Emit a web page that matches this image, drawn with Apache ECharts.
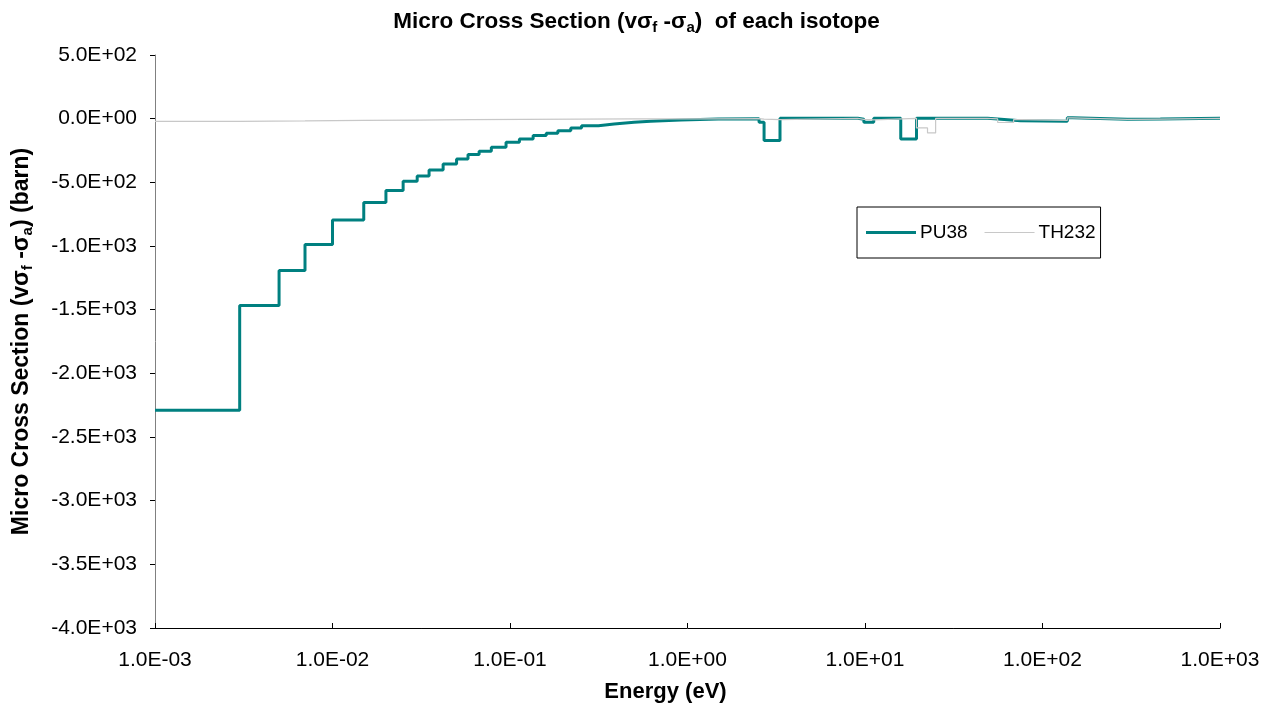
<!DOCTYPE html>
<html>
<head>
<meta charset="utf-8">
<script src="https://cdn.jsdelivr.net/npm/echarts@6/dist/echarts.min.js"></script>
<style>
  html, body { margin: 0; padding: 0; background: #fff; }
  #chart { width: 1273px; height: 708px; }
</style>
</head>
<body>
<div id="chart"></div>
<script>
// Energy group boundaries (eV), ascending; each group holds one value up to the next boundary.
const pu38Bounds = [1e-3, 3e-3, 5e-3, 7e-3, 1e-2, 1.5e-2, 2e-2, 2.5e-2, 3e-2, 3.5e-2, 4.2e-2,
  5e-2, 5.8e-2, 6.7e-2, 7.85e-2, 9.5e-2, 0.113, 0.135, 0.16, 0.186, 0.22, 0.253, 0.315, 0.386,
  0.5, 0.62, 0.92, 1.49, 2.53, 2.70, 3.32, 9.1, 9.85, 11.2, 15.9, 19.5, 49, 55.9, 75.2, 138,
  147.6, 301, 461, 1000];
// nu*sigma_f - sigma_a for PU38 (barn), one per group
const pu38Values = [-2290, -1467, -1192, -988, -795, -659, -565, -491, -450, -403, -356,
  -316, -282, -256, -225, -186, -159, -133, -115, -94, -73, -55, -42, -29,
  -21, -10, -3, 0, -29, -172, 3, -5, -29, 3, -159, 3, -2, -16, -21, 8,
  -5, -3, 3];

const th232Bounds = [1e-3, 3e-3, 7e-3, 1.5e-2, 3e-2, 6e-2, 0.12, 0.25, 0.5, 1.49, 2.53, 2.70,
  3.32, 9.1, 9.85, 11.2, 19.5, 22.5, 25.0, 49, 55.9, 68.7, 75.2, 138, 147.6, 301, 461, 1000];
// nu*sigma_f - sigma_a for TH232 (barn), one per group
const th232Values = [-22, -18, -14, -11, -8, -6, -4, -2, -1, 0, -3, -8,
  3, -5, -10, 3, -73, -112, 3, -2, -30, -8, -14, 6, -6, -3, 2];

const seriesNames = ['PU38', 'TH232'];
const yTicks = { min: -4000, max: 500, step: 500 };
const xRange = { min: 1e-3, max: 1e3 };

// Build step points: value held from each lower bound, closed at the last upper bound.
function stepData(bounds, values) {
  const pts = values.map((v, i) => [bounds[i], v]);
  pts.push([bounds[bounds.length - 1], values[values.length - 1]]);
  return pts;
}

// 5.0E+02 style number formatting
function sci(v) {
  const s = Number(v).toExponential(1);
  const m = s.match(/^(-?[\d.]+)e([+-])(\d+)$/);
  const exp = m[3].length < 2 ? '0' + m[3] : m[3];
  return m[1] + 'E' + m[2] + exp;
}

const font = 'Liberation Sans, Arial, sans-serif';
const sub = size => ({ fontSize: size, fontWeight: 'bold', fontFamily: font, verticalAlign: 'bottom', lineHeight: size });

const chart = echarts.init(document.getElementById('chart'), null, { renderer: 'canvas' });

chart.setOption({
  backgroundColor: '#ffffff',
  animation: false,
  title: {
    text: 'Micro Cross Section (vσ{f|f} -σ{a|a})  of each isotope',
    left: 'center',
    top: 8,
    padding: 0,
    textStyle: {
      fontFamily: font, fontSize: 22.5, fontWeight: 'bold', color: '#000', lineHeight: 27,
      rich: { f: sub(15), a: sub(15) }
    }
  },
  grid: { left: 153, right: 53, top: 55, bottom: 80, containLabel: false },
  legend: {
    left: 857,
    top: 207,
    orient: 'horizontal',
    backgroundColor: '#fff',
    borderColor: '#000',
    borderWidth: 1,
    borderRadius: 0,
    padding: [16, 5, 16, 9],
    itemWidth: 50,
    itemHeight: 14,
    itemGap: 17,
    symbolKeepAspect: true,
    textStyle: { fontFamily: font, fontSize: 19, color: '#000', padding: [0, 0, 0, -1] },
    data: [
      { name: seriesNames[0], icon: 'path://M0,0H50V3H0Z', itemStyle: { color: '#008080' } },
      { name: seriesNames[1], icon: 'path://M0,0H50V1H0Z', itemStyle: { color: '#c8c8c8' } }
    ]
  },
  xAxis: {
    type: 'log',
    logBase: 10,
    min: xRange.min,
    max: xRange.max,
    name: 'Energy (eV)',
    nameLocation: 'middle',
    nameGap: 53,
    nameTextStyle: {
      fontFamily: font, fontSize: 22, fontWeight: 'bold', color: '#000',
      padding: [0, 44, 0, 0]
    },
    axisLine: { show: true, onZero: false, lineStyle: { color: '#000', width: 1 } },
    axisTick: { show: true, inside: true, length: 5, lineStyle: { color: '#000' } },
    minorTick: { show: false },
    splitLine: { show: false },
    axisLabel: {
      fontFamily: font, fontSize: 21, color: '#000', margin: 22,
      formatter: v => sci(v)
    }
  },
  yAxis: {
    type: 'value',
    min: yTicks.min,
    max: yTicks.max,
    interval: yTicks.step,
    name: 'Micro Cross Section (vσ{f|f} -σ{a|a}) (barn)',
    nameLocation: 'middle',
    nameRotate: 90,
    nameGap: 120,
    nameTextStyle: {
      fontFamily: font, fontSize: 23, fontWeight: 'bold', color: '#000', lineHeight: 27,
      rich: { f: sub(15), a: sub(15) }
    },
    axisLine: { show: true, onZero: false, lineStyle: { color: '#808080', width: 1 } },
    axisTick: { show: true, inside: false, length: 5, lineStyle: { color: '#000' } },
    splitLine: { show: false },
    axisLabel: {
      fontFamily: font, fontSize: 21, color: '#000', margin: 18,
      formatter: v => sci(v)
    }
  },
  series: [
    {
      name: seriesNames[0],
      type: 'line',
      step: 'end',
      symbol: 'none',
      data: stepData(pu38Bounds, pu38Values),
      lineStyle: { color: '#008080', width: 3 },
      itemStyle: { color: '#008080' },
      z: 2
    },
    {
      name: seriesNames[1],
      type: 'line',
      step: 'end',
      symbol: 'none',
      data: stepData(th232Bounds, th232Values),
      lineStyle: { color: '#c8c8c8', width: 1.2 },
      itemStyle: { color: '#c8c8c8' },
      z: 3
    }
  ]
});
</script>
</body>
</html>
